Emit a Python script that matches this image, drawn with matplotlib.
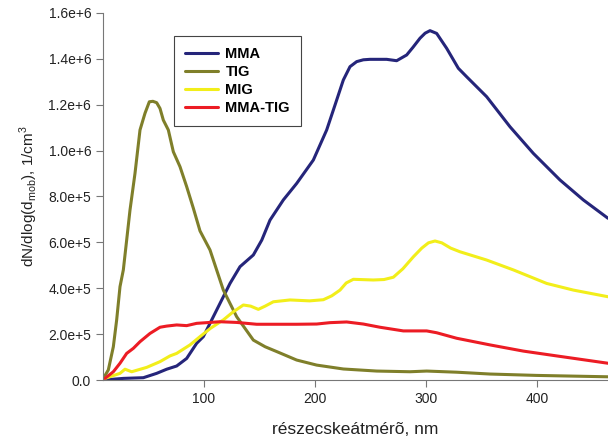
import matplotlib
matplotlib.use("Agg")
import matplotlib.pyplot as plt

plt.rcParams['font.family'] = ['Liberation Sans', 'DejaVu Sans']

# MMA (navy)
mma_x = [9.5, 27.4, 45.4, 57.4, 66.4, 75.4, 84.4, 93.4, 99.4, 111.4, 123.4, 132.4, 144.4,
         152.0, 159.4, 165.4, 171.4, 183.4, 198.4, 210.4, 218.0, 225.4, 231.4, 237.4, 243.4,
         249.4, 264.4, 273.4, 282.4, 288.0, 294.4, 299.0, 303.4, 309.4, 318.4, 328.9, 336.4,
         354.4, 375.4, 396.4, 420.4, 441.4, 463.6]
mma_y = [0.0, 0.007, 0.010, 0.029, 0.047, 0.061, 0.094, 0.160, 0.189, 0.305, 0.421, 0.494, 0.545,
         0.610, 0.697, 0.741, 0.785, 0.857, 0.959, 1.090, 1.200, 1.308, 1.366, 1.388, 1.396,
         1.398, 1.398, 1.392, 1.417, 1.450, 1.490, 1.512, 1.523, 1.511, 1.446, 1.359, 1.322,
         1.235, 1.104, 0.988, 0.872, 0.785, 0.705]

# TIG (olive)
tig_x = [9.4, 13.9, 18.4, 21.4, 24.4, 27.4, 30.4, 33.4, 37.9, 42.4, 46.9, 50.8, 54.0, 57.4,
         60.4, 63.4, 67.9, 72.4, 78.4, 84.4, 90.4, 96.4, 105.4, 117.4, 129.4, 144.4, 155.0,
         165.4, 183.4, 201.4, 225.4, 255.4, 285.4, 300.4, 327.4, 357.4, 399.4, 463.6]
tig_y = [0.007, 0.044, 0.145, 0.262, 0.407, 0.480, 0.610, 0.741, 0.901, 1.090, 1.163, 1.213,
         1.215, 1.209, 1.184, 1.133, 1.090, 0.995, 0.930, 0.843, 0.749, 0.650, 0.567, 0.392,
         0.276, 0.174, 0.145, 0.124, 0.087, 0.065, 0.048, 0.039, 0.036, 0.039, 0.034, 0.026,
         0.020, 0.014]

# MIG (yellow)
mig_x = [10.9, 24.4, 28.9, 34.9, 48.4, 60.4, 69.4, 75.4, 87.4, 96.4, 106.0, 117.4, 126.0,
         135.4, 142.0, 148.9, 155.0, 162.4, 177.4, 195.0, 207.4, 215.0, 222.4, 228.0, 234.4,
         252.4, 262.0, 270.4, 279.0, 288.4, 296.0, 302.0, 307.9, 314.0, 322.0, 330.4, 354.4,
         378.4, 408.4, 432.4, 463.6]
mig_y = [0.007, 0.029, 0.047, 0.036, 0.055, 0.080, 0.105, 0.116, 0.153, 0.189, 0.226, 0.262, 0.296,
         0.327, 0.322, 0.308, 0.322, 0.341, 0.349, 0.345, 0.350, 0.367, 0.392, 0.423, 0.439,
         0.436, 0.438, 0.448, 0.485, 0.537, 0.575, 0.598, 0.606, 0.598, 0.575, 0.559, 0.523,
         0.480, 0.421, 0.392, 0.363]

# MMA-TIG (red)
mt_x = [10.9, 18.4, 24.4, 30.4, 36.4, 42.4, 51.4, 60.4, 66.4, 75.4, 84.4, 93.4, 105.4,
        114.4, 129.4, 147.4, 183.4, 201.4, 213.4, 228.4, 243.4, 258.4, 279.4, 300.4, 309.4,
        327.4, 357.4, 387.4, 417.4, 463.6]
mt_y = [0.007, 0.036, 0.073, 0.116, 0.138, 0.167, 0.203, 0.230, 0.235, 0.240, 0.237, 0.247,
        0.251, 0.254, 0.251, 0.243, 0.243, 0.244, 0.250, 0.253, 0.244, 0.230, 0.214, 0.214,
        0.206, 0.182, 0.153, 0.126, 0.105, 0.073]

series = [("MMA", mma_x, mma_y, "#25257a"),
          ("TIG", tig_x, tig_y, "#7f7f2a"),
          ("MIG", mig_x, mig_y, "#f2ee1a"),
          ("MMA-TIG", mt_x, mt_y, "#ec1c24")]

yticks = [0, 0.2e6, 0.4e6, 0.6e6, 0.8e6, 1.0e6, 1.2e6, 1.4e6, 1.6e6]
ytick_labels = ["0.0", "2.0e+5", "4.0e+5", "6.0e+5", "8.0e+5", "1.0e+6", "1.2e+6", "1.4e+6", "1.6e+6"]
xticks = [100, 200, 300, 400]
xtick_labels = ["100", "200", "300", "400"]

fig = plt.figure(figsize=(6.08, 4.40), dpi=100)
ax = fig.add_axes([103/608, 60/440, 1 - 103/608, 367/440])

for name, xs, ys, c in series:
    ax.plot(xs, [v * 1e6 for v in ys], color=c, lw=2.2, label=name,
            solid_joinstyle='round', solid_capstyle='round')

ax.set_xlim(9.1, 463.6)
ax.set_ylim(0, 1.6e6)
ax.set_yticks(yticks)
ax.set_yticklabels(ytick_labels)
ax.set_xticks(xticks)
ax.set_xticklabels(xtick_labels)
ax.tick_params(direction='out', length=5, width=0.8, color='#777777', labelsize=10,
               labelcolor='#222222')
for s in ['top', 'right']:
    ax.spines[s].set_visible(False)
for s in ['left', 'bottom']:
    ax.spines[s].set_color('#777777')
    ax.spines[s].set_linewidth(0.8)

ax.set_xlabel("részecskeátmérõ, nm", fontsize=12.5, color='#222222', labelpad=12)
ax.set_ylabel(r"dN/dlog(d$_\mathregular{mob}$), 1/cm$^\mathregular{3}$", fontsize=11,
              color='#222222', labelpad=6)

leg = ax.legend(loc='upper left', bbox_to_anchor=((174 - 103) / 505, (380 - 36) / 367),
                frameon=True, fancybox=False, edgecolor='#444444', framealpha=1,
                prop={'weight': 'bold', 'size': 10.5}, handlelength=2.3, handletextpad=0.48,
                labelspacing=0.28, borderpad=0.75, borderaxespad=0)
leg.get_frame().set_linewidth(0.8)

fig.savefig("out.png", dpi=100)
